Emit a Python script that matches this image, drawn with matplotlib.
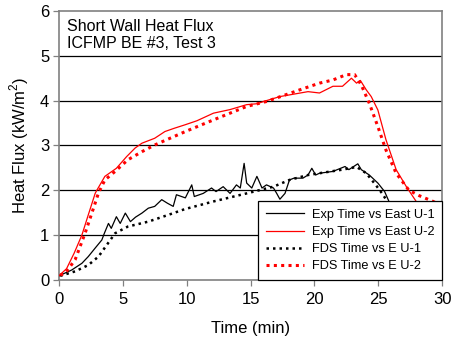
import matplotlib
matplotlib.use("Agg")
import matplotlib.pyplot as plt

plt.rcParams["font.family"] = ["Liberation Sans", "DejaVu Sans"]
plt.rcParams["mathtext.fontset"] = "custom"
plt.rcParams["mathtext.rm"] = "Liberation Sans"

# ── Data ──────────────────────────────────────────────────────────────────────

exp_u1_t = [0.0, 1.0, 1.8, 2.3, 2.84, 3.36, 3.56, 3.88, 4.1, 4.5, 4.8, 5.2, 5.6,
            6.0, 6.5, 7.0, 7.5, 8.05, 8.5, 8.95, 9.2, 9.9, 10.4, 10.6, 11.3,
            11.95, 12.3, 12.86, 13.4, 13.9, 14.2, 14.5, 14.7, 15.1, 15.5, 15.9,
            16.25, 16.8, 17.05, 17.3, 17.7, 18.05, 18.4, 19.1, 19.5, 19.8, 20.1,
            20.4, 21.45, 22.4, 22.7, 23.4, 23.67, 24.3, 24.97, 25.5, 25.9, 26.5,
            27.2, 28.0]
exp_u1_v = [0.09, 0.22, 0.37, 0.52, 0.71, 0.89, 1.04, 1.26, 1.15, 1.41, 1.26,
            1.49, 1.30, 1.40, 1.49, 1.60, 1.64, 1.79, 1.71, 1.64, 1.90, 1.83,
            2.12, 1.86, 1.93, 2.05, 1.97, 2.08, 1.93, 2.12, 2.05, 2.60, 2.16,
            2.05, 2.31, 2.05, 2.12, 2.05, 1.93, 1.80, 1.93, 2.23, 2.27, 2.27,
            2.34, 2.49, 2.34, 2.38, 2.42, 2.53, 2.46, 2.59, 2.46, 2.34, 2.16,
            1.97, 1.71, 1.35, 1.00, 0.80]

exp_u2_t = [0.0, 0.6, 1.2, 1.8, 2.3, 2.84, 2.97, 3.6, 4.5, 5.3, 5.96, 6.5, 7.5,
            8.3, 9.0, 9.87, 10.8, 12.1, 13.4, 14.7, 15.5, 16.25, 17.3, 18.3,
            19.5, 20.4, 21.45, 22.2, 22.9, 23.3, 23.6, 24.06, 24.45, 24.97,
            25.6, 26.4, 27.2, 27.97, 29.0, 30.0]
exp_u2_v = [0.09, 0.25, 0.60, 1.00, 1.45, 1.93, 2.00, 2.31, 2.49, 2.75, 2.94,
            3.05, 3.16, 3.31, 3.38, 3.46, 3.55, 3.72, 3.80, 3.91, 3.93, 4.00,
            4.09, 4.14, 4.20, 4.17, 4.32, 4.32, 4.50, 4.39, 4.45, 4.24, 4.09,
            3.79, 3.13, 2.46, 2.08, 1.75, 1.45, 1.20]

fds_u1_t = [0.1, 1.27, 2.3, 3.1, 3.75, 4.4, 5.4, 7.0, 8.56, 9.87, 12.1, 14.7,
            16.8, 18.05, 19.5, 20.4, 22.2, 23.3, 24.06, 24.8, 25.3, 25.8, 26.5,
            27.5]
fds_u1_v = [0.09, 0.19, 0.33, 0.52, 0.78, 1.04, 1.19, 1.30, 1.45, 1.58, 1.75,
            1.93, 2.08, 2.23, 2.34, 2.38, 2.46, 2.52, 2.38, 2.12, 1.93, 1.71,
            1.35, 0.95]

fds_u2_t = [0.1, 0.5, 1.27, 2.05, 2.58, 3.1, 3.6, 4.4, 5.4, 6.5, 7.5, 9.9, 12.1,
            14.7, 16.25, 18.85, 20.4, 21.45, 22.5, 23.15, 23.67, 24.3, 24.97,
            25.6, 26.4, 27.4, 28.2, 29.3, 30.0]
fds_u2_v = [0.11, 0.15, 0.45, 1.04, 1.49, 1.94, 2.23, 2.42, 2.68, 2.86, 3.01,
            3.31, 3.57, 3.87, 3.98, 4.24, 4.39, 4.46, 4.58, 4.58, 4.35, 3.94,
            3.42, 2.90, 2.38, 2.00, 1.88, 1.75, 1.65]

X_TICKS = [0, 5, 10, 15, 20, 25, 30]
Y_TICKS = [0, 1, 2, 3, 4, 5, 6]

RED  = "#FF0000"
GRAY = "#808080"

# ── Figure ────────────────────────────────────────────────────────────────────

fig = plt.figure(figsize=(4.53, 3.43), dpi=100)
ax = fig.add_axes([0.130, 0.184, 0.846, 0.784])

for y in Y_TICKS[1:-1]:
    ax.axhline(y, color="black", lw=0.9, zorder=1)

ax.plot(exp_u1_t, exp_u1_v, color="black", lw=0.9, label="Exp Time vs East U-1", zorder=3)
ax.plot(exp_u2_t, exp_u2_v, color=RED, lw=0.9, label="Exp Time vs East U-2", zorder=3)
ax.plot(fds_u1_t, fds_u1_v, color="black", lw=1.8, ls=(0, (1, 1.6)),
        label="FDS Time vs E U-1", zorder=3)
ax.plot(fds_u2_t, fds_u2_v, color=RED, lw=2.2, ls=(0, (1, 1.4)),
        label="FDS Time vs E U-2", zorder=3)

ax.set_xlim(0, 30)
ax.set_ylim(0, 6)
ax.set_xticks(X_TICKS)
ax.set_yticks(Y_TICKS)
ax.tick_params(direction="out", length=4, width=0.9, color=GRAY,
               labelsize=12)
ax.tick_params(axis="x", pad=5)
ax.tick_params(axis="y", pad=3)
for sp in ax.spines.values():
    sp.set_color(GRAY)
    sp.set_linewidth(1.2)

ax.set_xlabel("Time (min)", fontsize=12, labelpad=10)
ax.set_ylabel("Heat Flux (kW/m$^2$)", fontsize=12, labelpad=6)

ax.text(0.022, 0.972, "Short Wall Heat Flux\nICFMP BE #3, Test 3",
        transform=ax.transAxes, ha="left", va="top", fontsize=11.5,
        linespacing=1.2)

leg = ax.legend(loc="lower right", fontsize=9.2, frameon=True, fancybox=False,
                framealpha=1, borderaxespad=0, handlelength=3.0,
                handletextpad=0.6, labelspacing=0.4, borderpad=0.6)
leg.get_frame().set_edgecolor("black")
leg.get_frame().set_linewidth(0.9)
leg.set_zorder(5)

fig.savefig("out.png", dpi=100)
